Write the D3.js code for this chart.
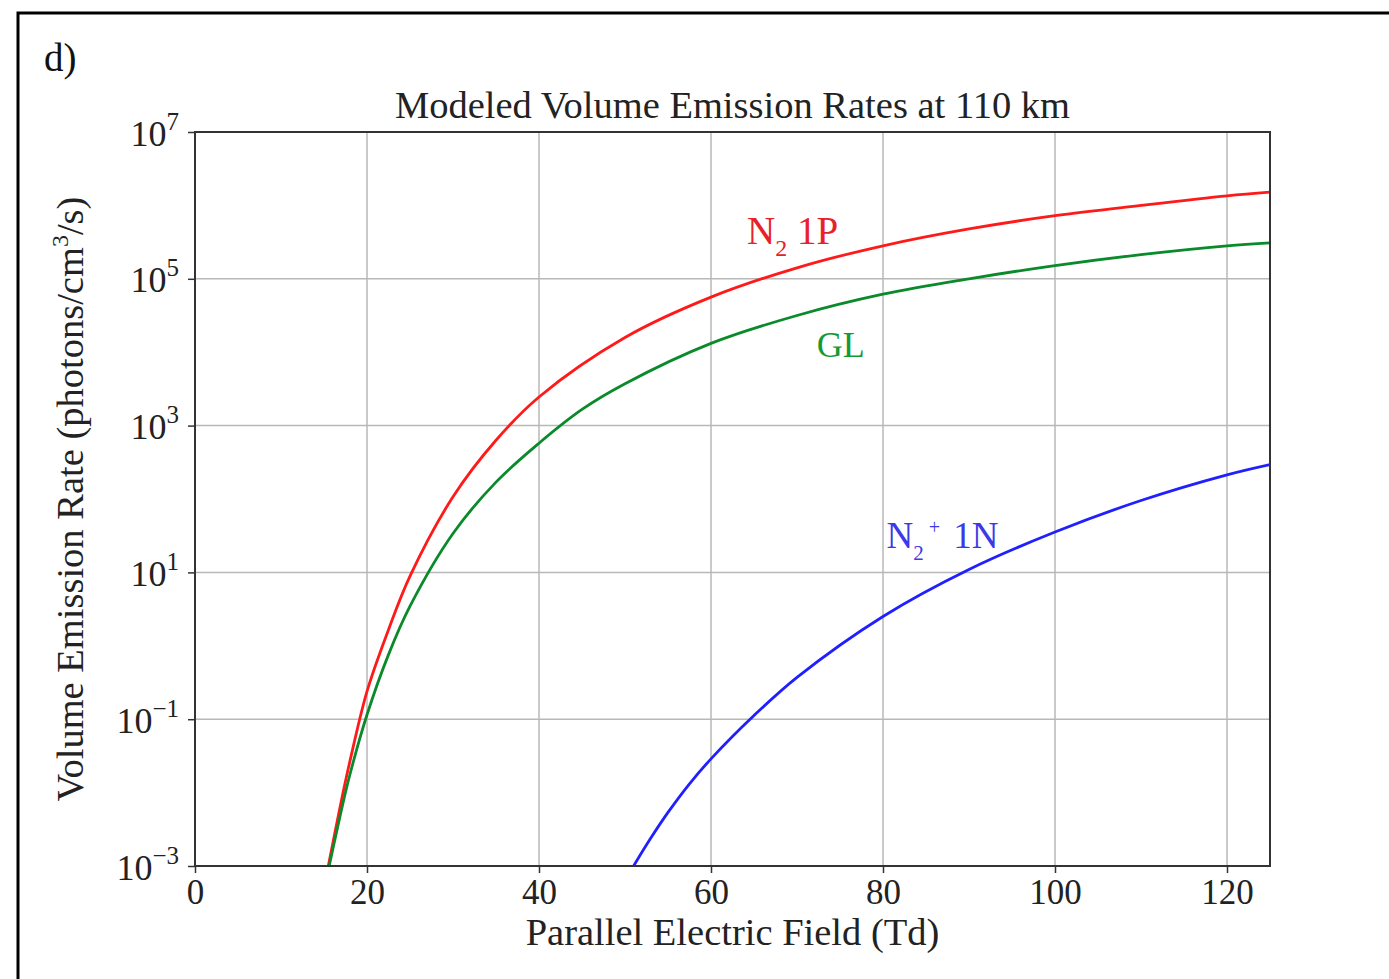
<!DOCTYPE html>
<html>
<head>
<meta charset="utf-8">
<script src="https://cdn.jsdelivr.net/npm/d3@7"></script>
<style>
  body { margin: 0; background: #fff; }
  text { font-family: "Liberation Serif", "DejaVu Serif", serif; }
</style>
</head>
<body>
<svg id="chart" width="1389" height="979"></svg>
<script>
// values: x in Td, y as log10(photons/cm^3/s)
const n2_1pX = [15.5, 17, 18, 20, 22.5, 25, 30, 35, 40, 50, 60, 70, 80, 90, 100, 110, 120, 125];
const n2_1pLog = [-3.0, -2.12, -1.58, -0.62, 0.22, 0.95, 2.03, 2.8, 3.39, 4.2, 4.75, 5.15, 5.45, 5.68, 5.86, 6.0, 6.13, 6.18];

const glX = [15.6, 17, 18, 20, 22.5, 25, 30, 35, 40, 45, 50, 60, 70, 80, 90, 100, 110, 120, 125];
const glLog = [-3.0, -2.25, -1.76, -0.94, -0.12, 0.54, 1.53, 2.23, 2.76, 3.22, 3.57, 4.12, 4.5, 4.79, 5.0, 5.18, 5.33, 5.45, 5.49];

const n2p_1nX = [51, 53, 55, 57.5, 60, 65, 70, 80, 90, 100, 110, 120, 125];
const n2p_1nLog = [-3.0, -2.62, -2.27, -1.88, -1.54, -0.95, -0.43, 0.4, 1.04, 1.55, 1.98, 2.33, 2.47];

const xTicks = [0, 20, 40, 60, 80, 100, 120];
const yTickExp = [-3, -1, 1, 3, 5, 7];

const svg = d3.select("#chart");
const margin = { top: 132, right: 119, bottom: 113, left: 195 };
const width = 1389, height = 979;

const x = d3.scaleLinear().domain([0, 125]).range([margin.left, width - margin.right]);
const y = d3.scaleLog().domain([1e-3, 1e7]).range([height - margin.bottom, margin.top]);

// outer panel frame
svg.append("rect")
  .attr("x", 18).attr("y", 13)
  .attr("width", 1400).attr("height", 1000)
  .attr("fill", "none").attr("stroke", "#000").attr("stroke-width", 3);

svg.append("text").attr("x", 44).attr("y", 71)
  .style("font-size", "39px").attr("fill", "#111").text("d)");

// grid
const grid = svg.append("g").attr("stroke", "#b8b8b8").attr("stroke-width", 1.5);
grid.selectAll(".gx").data(xTicks).enter().append("line")
  .attr("x1", d => x(d)).attr("x2", d => x(d))
  .attr("y1", y.range()[0]).attr("y2", y.range()[1]);
grid.selectAll(".gy").data(yTickExp).enter().append("line")
  .attr("y1", d => y(Math.pow(10, d))).attr("y2", d => y(Math.pow(10, d)))
  .attr("x1", x.range()[0]).attr("x2", x.range()[1]);

// curves
svg.append("clipPath").attr("id", "clip").append("rect")
  .attr("x", x.range()[0]).attr("y", y.range()[1])
  .attr("width", x.range()[1] - x.range()[0])
  .attr("height", y.range()[0] - y.range()[1]);

const line = d3.line()
  .x(d => x(d[0]))
  .y(d => y(Math.pow(10, d[1])))
  .curve(d3.curveCatmullRom.alpha(0.5));
const series = [
  { xs: n2_1pX, ys: n2_1pLog, color: "#ff1a1a" },
  { xs: glX, ys: glLog, color: "#0a8a2a" },
  { xs: n2p_1nX, ys: n2p_1nLog, color: "#2020ff" }
];
svg.append("g").attr("clip-path", "url(#clip)")
  .selectAll("path").data(series).enter().append("path")
  .attr("d", s => line(d3.zip(s.xs, s.ys)))
  .attr("fill", "none")
  .attr("stroke", s => s.color)
  .attr("stroke-width", 2.8);

// axes
const xAxis = svg.append("g")
  .attr("transform", `translate(0,${y.range()[0]})`)
  .call(d3.axisBottom(x).tickValues(xTicks).tickSize(7).tickPadding(6).tickSizeOuter(0));
const yAxis = svg.append("g")
  .attr("transform", `translate(${x.range()[0]},0)`)
  .call(d3.axisLeft(y).tickValues(yTickExp.map(e => Math.pow(10, e))).tickSize(7).tickPadding(6).tickSizeOuter(0).tickFormat(""));

[xAxis, yAxis].forEach(g => {
  g.select(".domain").remove();
  g.selectAll(".tick line").attr("stroke", "#333").attr("stroke-width", 1.5);
});
xAxis.selectAll(".tick text").style("font-size", "35px").attr("fill", "#222")
  .attr("font-family", null);

yAxis.selectAll(".tick").each(function (d) {
  const e = Math.round(Math.log10(d));
  const t = d3.select(this).append("text")
    .attr("x", -16).attr("y", 13)
    .attr("text-anchor", "end")
    .style("font-size", "36px").attr("fill", "#222");
  t.append("tspan").text("10");
  t.append("tspan").attr("dy", -16).style("font-size", "25px")
    .text(e < 0 ? "\u2212" + (-e) : String(e));
});

// spines
svg.append("rect")
  .attr("x", x.range()[0]).attr("y", y.range()[1])
  .attr("width", x.range()[1] - x.range()[0])
  .attr("height", y.range()[0] - y.range()[1])
  .attr("fill", "none").attr("stroke", "#333").attr("stroke-width", 2);

// titles
svg.append("text").attr("x", (x.range()[0] + x.range()[1]) / 2).attr("y", 118)
  .attr("text-anchor", "middle").style("font-size", "38.5px").attr("fill", "#222")
  .text("Modeled Volume Emission Rates at 110 km");

svg.append("text").attr("x", (x.range()[0] + x.range()[1]) / 2).attr("y", 945)
  .attr("text-anchor", "middle").style("font-size", "38.5px").attr("fill", "#222")
  .text("Parallel Electric Field (Td)");

const yl = svg.append("text")
  .attr("transform", `translate(83,${(y.range()[0] + y.range()[1]) / 2}) rotate(-90)`)
  .attr("text-anchor", "middle").style("font-size", "38.5px").attr("fill", "#222");
yl.append("tspan").text("Volume Emission Rate (photons/cm");
yl.append("tspan").attr("dy", -15).style("font-size", "24px").text("3");
yl.append("tspan").attr("dy", 15).text("/s)");

// curve labels
const lab1 = svg.append("text").attr("x", x(64.2)).attr("y", 244)
  .style("font-size", "39px").attr("fill", "#e8202a");
lab1.append("tspan").text("N");
lab1.append("tspan").attr("dy", 12).style("font-size", "24px").text("2");
lab1.append("tspan").attr("dy", -12).text(" 1P");

svg.append("text").attr("x", x(72.3)).attr("y", 357)
  .style("font-size", "36px").attr("fill", "#139a35").text("GL");

const lab3 = svg.append("text").attr("x", x(80.4)).attr("y", 548)
  .style("font-size", "37px").attr("fill", "#3a3ae8");
lab3.append("tspan").text("N");
lab3.append("tspan").attr("dy", 12).style("font-size", "21px").text("2");
lab3.append("tspan").attr("dx", 5).attr("dy", -26).style("font-size", "20px").text("+");
lab3.append("tspan").attr("dx", 4).attr("dy", 14).text(" 1N");
</script>
</body>
</html>
